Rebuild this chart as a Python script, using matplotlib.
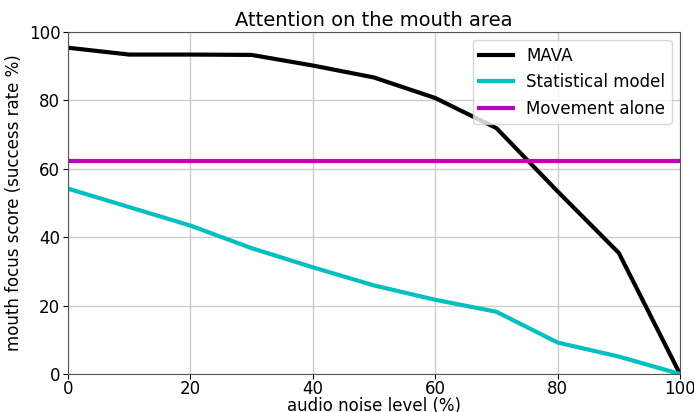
import matplotlib
matplotlib.use('Agg')
import matplotlib.pyplot as plt

# niveaux de bruit audio (%)
noise_levels = [0, 10, 20, 30, 40, 50, 60, 70, 80, 90, 100]

# scores de focus sur la bouche (%)
mava_scores = [95.4, 93.4, 93.4, 93.3, 90.2, 86.7, 80.7, 71.9, 53.4, 35.4, 0.0]
statistical_scores = [54.2, 48.8, 43.4, 36.8, 31.2, 25.9, 21.7, 18.2, 9.2, 5.1, 0.0]
movement_alone = 62.2

plt.rcParams['font.size'] = 12

fig = plt.figure(figsize=(6.94, 4.12), dpi=100)
ax = fig.add_axes([68 / 694, 1 - 374 / 412, 612 / 694, 342 / 412])

ax.plot(noise_levels, mava_scores, color='black', linewidth=3, label='MAVA')
ax.plot(noise_levels, statistical_scores, color='#00bfbf', linewidth=3, label='Statistical model')
ax.axhline(movement_alone, color='#bf00bf', linewidth=3, label='Movement alone')

ax.set_xlim(0, 100)
ax.set_ylim(0, 100)
ax.grid(True, color='#cccccc', linewidth=1)
ax.tick_params(labelsize=12, pad=2)
ax.tick_params(axis='x', pad=1)
for spine in ax.spines.values():
    spine.set_color('#555555')
ax.set_xlabel('audio noise level (%)', fontsize=12, labelpad=-1)
ax.set_ylabel('mouth focus score (success rate %)', fontsize=12, labelpad=4)
ax.set_title('Attention on the mouth area', fontsize=14, pad=4)
ax.legend(loc='upper right', fontsize=12)

plt.savefig('out.png', dpi=100)
plt.close()
